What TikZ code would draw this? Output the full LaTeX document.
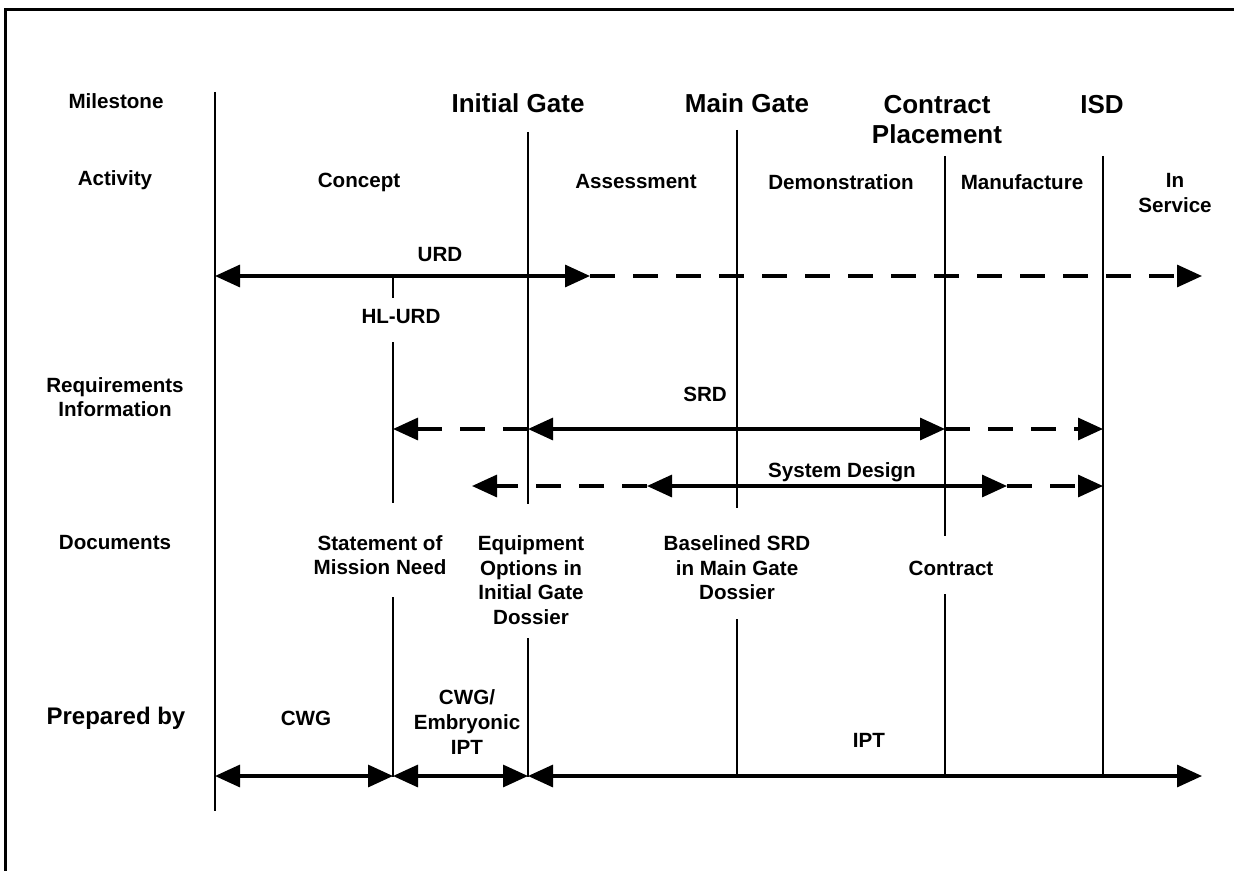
\documentclass[tikz,border=0pt]{standalone}
\usepackage{fontspec}
\setmainfont{Liberation Sans}
\usetikzlibrary{arrows.meta}
\tikzset{
  lbl/.style={font=\bfseries\fontsize{10.3}{12.3}\selectfont, align=center, inner sep=0pt},
  biglbl/.style={font=\bfseries\fontsize{13}{15}\selectfont, align=center, inner sep=0pt},
  rowlbl/.style={font=\bfseries\fontsize{10.3}{12.3}\selectfont, align=center, inner sep=0pt},
  vline/.style={line width=1.4pt},
  conn/.style={line width=1.6pt},
  dconn/.style={line width=1.6pt, dash pattern=on 12.5pt off 9pt},
  tip/.tip={Triangle[length=12.5pt,width=11pt]},
}
\begin{document}
\begin{tikzpicture}[x=0.5pt,y=-0.5pt]
\useasboundingbox (0,0) rectangle (1234,871);
% frame
\coordinate (frTR) at (1234,10);
\coordinate (frTL) at (5,10);
\coordinate (frBL) at (5,871);
\draw[line width=1.5pt] (frTR) -- (frTL) -- (frBL);

% column and row coordinates
\coordinate (xL) at (215,0);
\coordinate (xH) at (393,0);
\coordinate (xIG) at (528,0);
\coordinate (xMG) at (737,0);
\coordinate (xCP) at (945,0);
\coordinate (xISD) at (1103,0);
\coordinate (xUe) at (590,0);
\coordinate (xEnd) at (1202,0);
\coordinate (xSl) at (472,0);
\coordinate (xSa) at (647,0);
\coordinate (xSb) at (1007,0);
\coordinate (yU) at (0,276);
\coordinate (yS) at (0,429);
\coordinate (yD) at (0,486);
\coordinate (yB) at (0,776);

% row labels
\node[rowlbl] (mil) at (116,101) {Milestone};
\node[rowlbl] (act) at (115,180) {Activity};
\node[rowlbl] (req) at (115,397) {Requirements\\Information};
\node[rowlbl] (docs) at (115,543) {Documents};
\node[rowlbl, font=\bfseries\fontsize{12}{14}\selectfont] (prep) at (116,718) {Prepared by};

% milestones
\node[biglbl] (ig) at (518,103) {Initial Gate};
\node[biglbl] (mg) at (747,103) {Main Gate};
\node[biglbl] (cp) at (937,120) {Contract\\Placement};
\node[biglbl] (isd) at (1102,105) {ISD};

% activities
\node[lbl] (concept) at (359,182) {Concept};
\node[lbl] (assess) at (636,182) {Assessment};
\node[lbl] (demo) at (841,182) {Demonstration};
\node[lbl] (manu) at (1022,182) {Manufacture};
\node[lbl] (insvc) at (1175,193) {In\\Service};

% requirement labels
\node[lbl] (urd) at (440,255) {URD};
\node[lbl] (hlurd) at (401,317) {HL-URD};
\node[lbl] (srd) at (705,394) {SRD};
\node[lbl] (sysd) at (842,472) {System Design};

% documents
\node[lbl] (smn) at (380,555) {Statement of\\Mission Need};
\node[lbl] (eq) at (531,580) {Equipment\\Options in\\Initial Gate\\Dossier};
\node[lbl] (bsrd) at (737,568) {Baselined SRD\\in Main Gate\\Dossier};
\node[lbl] (contract) at (951,568) {Contract};

% prepared by
\node[lbl] (cwg) at (306,718) {CWG};
\node[lbl] (cwge) at (467,722) {CWG/\\Embryonic\\IPT};
\node[lbl] (ipt) at (869,740) {IPT};

% vertical lines
\draw[vline] (215,92) -- (215,811);
\draw[vline] (393,276) -- (393,298);
\draw[vline] (393,342) -- (393,503);
\draw[vline] (393,597) -- (393,777);
\draw[vline] (528,132) -- (528,504);
\draw[vline] (528,638) -- (528,777);
\draw[vline] (737,130) -- (737,508);
\draw[vline] (737,619) -- (737,777);
\draw[vline] (945,156) -- (945,536);
\draw[vline] (945,594) -- (945,777);
\draw[vline] (1103,156) -- (1103,777);

% URD
\draw[conn, {tip}-{tip}] (xL |- yU) -- (xUe |- yU);
\draw[dconn, -{tip}] (xUe |- yU) -- (xEnd |- yU);
% SRD
\draw[dconn, -{tip}] (xIG |- yS) -- (xH |- yS);
\draw[conn, {tip}-{tip}] (xIG |- yS) -- (xCP |- yS);
\draw[dconn, -{tip}] (xCP |- yS) -- (xISD |- yS);
% System design
\draw[dconn, -{tip}] (xSa |- yD) -- (xSl |- yD);
\draw[conn, {tip}-{tip}] (xSa |- yD) -- (xSb |- yD);
\draw[dconn, -{tip}] (xSb |- yD) -- (xISD |- yD);
% Prepared by
\draw[conn, {tip}-{tip}] (xL |- yB) -- (xH |- yB);
\draw[conn, {tip}-{tip}] (xH |- yB) -- (xIG |- yB);
\draw[conn, {tip}-{tip}] (xIG |- yB) -- (xEnd |- yB);
\end{tikzpicture}
\end{document}
